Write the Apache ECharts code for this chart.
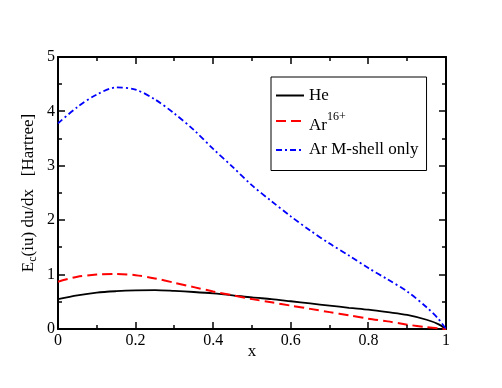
<!DOCTYPE html>
<html>
<head>
<meta charset="utf-8">
<script src="https://cdn.jsdelivr.net/npm/echarts@6/dist/echarts.min.js"></script>
<style>
    html, body { margin: 0; padding: 0; background: #fff; }
    #main { width: 502px; height: 388px; }
</style>
</head>
<body>
<div id="main"></div>
<script>
// x 取样点
var xs = [0, 0.05, 0.1, 0.15, 0.2, 0.25, 0.3, 0.35, 0.4, 0.45, 0.5, 0.55, 0.6, 0.65, 0.7, 0.75, 0.8, 0.85, 0.9, 0.95, 0.98, 1];
// 三条曲线
var heVals = [0.55, 0.62, 0.67, 0.695, 0.71, 0.715, 0.70, 0.68, 0.655, 0.62, 0.58, 0.55, 0.51, 0.47, 0.43, 0.39, 0.355, 0.31, 0.26, 0.17, 0.09, 0];
var arVals = [0.87, 0.96, 1.00, 1.01, 0.99, 0.93, 0.85, 0.77, 0.69, 0.62, 0.55, 0.49, 0.43, 0.37, 0.31, 0.25, 0.19, 0.14, 0.08, 0.035, 0.012, 0];
var mshellVals = [3.78, 4.08, 4.31, 4.44, 4.40, 4.22, 3.96, 3.66, 3.31, 2.98, 2.64, 2.35, 2.07, 1.81, 1.57, 1.35, 1.12, 0.91, 0.69, 0.40, 0.19, 0];
var seriesNames = ["He", "Ar16+", "Ar M-shell only"];
// 刻度位置
var xMajorTicks = [0.2, 0.4, 0.6, 0.8];
var xMinorTicks = [0.1, 0.3, 0.5, 0.7, 0.9];
var yMajorTicks = [1, 2, 3, 4];
var yMinorTicks = [0.5, 1.5, 2.5, 3.5, 4.5];

(function() {
    var myChart = echarts.init(document.getElementById("main"));
    var font = "Liberation Serif";

    function pairs(ys) {
        return xs.map(function(x, i) { return [x, ys[i]]; });
    }

    // 四边的框
    function frameAxis(extra) {
        var base = {
            type: "value",
            axisLine: { show: true, onZero: false, lineStyle: { color: "#000", width: 2 } },
            axisTick: { show: false },
            splitLine: { show: false },
            axisLabel: { show: false }
        };
        return Object.assign(base, extra);
    }

    // 坐标轴标题
    var titles = [
        {
            type: "text",
            x: 29,
            y: 193,
            rotation: Math.PI / 2,
            style: {
                text: "{m|E}{sub|c}{m|(iu) du/dx   [Hartree]}",
                align: "center",
                verticalAlign: "middle",
                font: "17px " + font,
                fill: "#000",
                rich: {
                    m: { fontFamily: font, fontSize: 17, fill: "#000" },
                    sub: { fontFamily: font, fontSize: 12, fill: "#000", padding: [8, 0, 0, 0] }
                }
            }
        },
        {
            type: "text",
            x: 252,
            y: 352,
            style: {
                text: "x",
                align: "center",
                verticalAlign: "middle",
                font: "17px " + font,
                fill: "#000"
            }
        }
    ];

    var option = {
        animation: false,
        grid: { left: 58, right: 56, top: 57, bottom: 59 },
        graphic: titles,
        legend: {
            orient: "vertical",
            left: 271,
            top: 77,
            padding: [10, 8, 12, 4],
            borderColor: "#000",
            borderWidth: 1,
            borderRadius: 0,
            itemWidth: 28,
            itemHeight: 14,
            itemGap: 7,
            itemStyle: { opacity: 0 },
            data: seriesNames,
            formatter: function(name) {
                if (name === "Ar16+") return "{base|Ar}{sup|16+}";
                return name;
            },
            textStyle: {
                fontFamily: font,
                fontSize: 17,
                color: "#000",
                rich: {
                    base: { fontFamily: font, fontSize: 17, color: "#000", padding: [10, 0, 0, 0] },
                    sup: { fontFamily: font, fontSize: 12, color: "#000", padding: [0, 0, 8, 0] }
                }
            }
        },
        xAxis: [
            frameAxis({
                min: 0, max: 1, interval: 0.2,
                position: "bottom",
                axisLabel: {
                    show: true, margin: 4, fontFamily: font, fontSize: 16, color: "#000",
                    formatter: function(v) { return String(+v.toFixed(1)); }
                }
            }),
            frameAxis({ min: 0, max: 1, interval: 0.2, position: "top" })
        ],
        yAxis: [
            frameAxis({
                min: 0, max: 5, interval: 1,
                position: "left",
                axisLabel: { show: true, margin: 3, fontFamily: font, fontSize: 16, color: "#000" }
            }),
            frameAxis({ min: 0, max: 5, interval: 1, position: "right" })
        ],
        series: [
            {
                name: seriesNames[0],
                type: "line",
                symbol: "none",
                smooth: 0.3,
                data: pairs(heVals),
                lineStyle: { color: "#000", width: 1.8 },
                itemStyle: { color: "#000" }
            },
            {
                name: seriesNames[1],
                type: "line",
                symbol: "none",
                smooth: 0.3,
                data: pairs(arVals),
                lineStyle: { color: "#ff0000", width: 2, type: [10, 5] },
                itemStyle: { color: "#ff0000" }
            },
            {
                name: seriesNames[2],
                type: "line",
                symbol: "none",
                smooth: 0.3,
                data: pairs(mshellVals),
                lineStyle: { color: "#0000ff", width: 1.8, type: [6, 3, 2, 3] },
                itemStyle: { color: "#0000ff" }
            }
        ]
    };

    myChart.setOption(option);

    // 向内的刻度: 位置由坐标轴换算
    function buildTicks() {
        var ticks = [];
        function toPx(x, y) {
            return myChart.convertToPixel({ gridIndex: 0 }, [x, y]);
        }
        function tick(x1, y1, x2, y2) {
            ticks.push({
                type: "line",
                silent: true,
                z: 10,
                shape: { x1: x1, y1: y1, x2: x2, y2: y2 },
                style: { stroke: "#000", lineWidth: 1.5 }
            });
        }
        function xTicks(list, len) {
            list.forEach(function(v) {
                var b = toPx(v, 0), t = toPx(v, 5);
                var px = Math.round(b[0]);
                tick(px, b[1], px, b[1] - len);
                tick(px, t[1], px, t[1] + len);
            });
        }
        function yTicks(list, len) {
            list.forEach(function(v) {
                var l = toPx(0, v), r = toPx(1, v);
                var py = Math.round(l[1]);
                tick(l[0], py, l[0] + len, py);
                tick(r[0], py, r[0] - len, py);
            });
        }
        xTicks(xMajorTicks, 7);
        xTicks(xMinorTicks, 4);
        yTicks(yMajorTicks, 7);
        yTicks(yMinorTicks, 4);
        return ticks;
    }

    myChart.setOption({ graphic: titles.concat(buildTicks()) });

    window.addEventListener("resize", function() {
        myChart.resize();
        myChart.setOption({ graphic: titles.concat(buildTicks()) });
    });
})();
</script>
</body>
</html>
